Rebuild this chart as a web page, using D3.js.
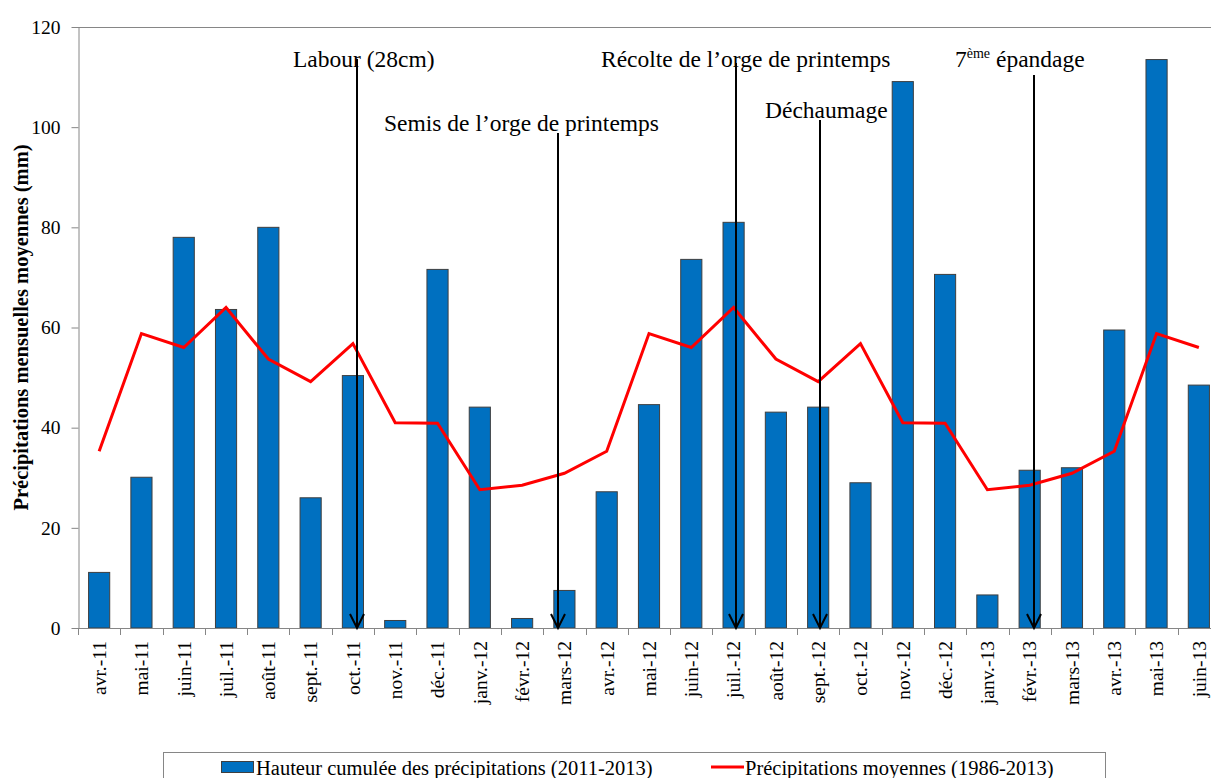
<!DOCTYPE html>
<html>
<head>
<meta charset="utf-8">
<script src="https://cdn.jsdelivr.net/npm/d3@7"></script>
<style>
  html, body { margin: 0; padding: 0; background: #fff; overflow: hidden; }
  svg, svg text { font-family: "Liberation Serif", "Times New Roman", serif; }
</style>
</head>
<body>
<svg id="chart" width="1211" height="778"></svg>
<script>
// ---------- DATA ----------
const months = ["avr.-11","mai-11","juin-11","juil.-11","août-11","sept.-11","oct.-11","nov.-11","déc.-11","janv.-12","févr.-12","mars-12","avr.-12","mai-12","juin-12","juil.-12","août-12","sept.-12","oct.-12","nov.-12","déc.-12","janv.-13","févr.-13","mars-13","avr.-13","mai-13","juin-13"];
const rainfall = [11.1, 30.1, 78, 63.6, 80, 26, 50.4, 1.5, 71.6, 44.1, 1.9, 7.5, 27.2, 44.6, 73.6, 81, 43.1, 44.1, 29, 109.1, 70.6, 6.6, 31.5, 32, 59.5, 113.5, 48.5];
const meanRain = [35.3, 58.8, 56, 64, 53.7, 49.2, 56.8, 41, 40.9, 27.6, 28.5, 30.9, 35.3, 58.8, 56, 64, 53.7, 49.2, 56.8, 41, 40.9, 27.6, 28.5, 30.9, 35.3, 58.8, 56];
const yTicks = [0, 20, 40, 60, 80, 100, 120];
const annotLabels = ["Labour (28cm)", "Semis de l’orge de printemps", "Récolte de l’orge de printemps", "Déchaumage", "7|ème| épandage"];
const annotMonths = ["oct.-11", "mars-12", "juil.-12", "sept.-12", "févr.-13"];
const seriesNames = ["Hauteur cumulée des précipitations (2011-2013)", "Précipitations moyennes (1986-2013)"];
const yTitle = "Précipitations mensuelles moyennes (mm)";

// ---------- LAYOUT ----------
const FONT = '"Liberation Serif", "Times New Roman", serif';
const plot = { left: 78, right: 1220, top: 27, bottom: 628 };
// arrows were hand-placed in the original: small shifts from the band centre
const annotLayout = [
  { shift: 4, dx: -64, textY: 67, lineTop: 59 },
  { shift: -6, dx: -174, textY: 131, lineTop: 133 },
  { shift: 2.5, dx: -135, textY: 67, lineTop: 63 },
  { shift: 1.5, dx: -55, textY: 118, lineTop: 120 },
  { shift: 4.5, dx: -79, textY: 67, lineTop: 75 }
];

const svg = d3.select("#chart");

const x = d3.scaleBand().domain(months).range([plot.left, plot.right]).paddingInner(0.5).paddingOuter(0.25);
const y = d3.scaleLinear().domain([0, 120]).range([plot.bottom, plot.top]);
const step = x.step();

// plot border (top line)
svg.append("line")
  .attr("x1", plot.left).attr("x2", plot.right)
  .attr("y1", y(120) + 0.5).attr("y2", y(120) + 0.5)
  .attr("stroke", "#868686").attr("stroke-width", 1);

// bars
svg.append("g").selectAll("rect").data(months).join("rect")
  .attr("x", d => x(d))
  .attr("y", (d, i) => y(rainfall[i]))
  .attr("width", x.bandwidth())
  .attr("height", (d, i) => y(0) - y(rainfall[i]))
  .attr("fill", "#0070C0")
  .attr("stroke", "#3f3f3f")
  .attr("stroke-width", 1);

// Y axis
const yAxis = d3.axisLeft(y).tickValues(yTicks).tickSize(7).tickSizeOuter(0).tickPadding(11).tickFormat(d3.format("d"));
const gy = svg.append("g").attr("transform", `translate(${plot.left + 0.5},0)`).call(yAxis);
gy.attr("font-family", null).attr("font-size", null);
gy.select(".domain").attr("stroke", "#868686");
gy.selectAll(".tick line").attr("stroke", "#868686");
gy.selectAll(".tick text").style("font-size", "19.5px").style("font-family", FONT).attr("fill", "#000");

// X axis line + ticks at band boundaries
svg.append("line")
  .attr("x1", plot.left).attr("x2", plot.right)
  .attr("y1", y(0) + 0.5).attr("y2", y(0) + 0.5)
  .attr("stroke", "#868686");
const boundaries = months.map(d => x(d) + x.bandwidth() / 2 - step / 2).concat([plot.right]);
svg.append("g").selectAll("line").data(boundaries).join("line")
  .attr("x1", d => Math.round(d) + 0.5).attr("x2", d => Math.round(d) + 0.5)
  .attr("y1", y(0)).attr("y2", y(0) + 7)
  .attr("stroke", "#868686");

// X labels
svg.append("g").selectAll("text").data(months).join("text")
  .attr("transform", d => `translate(${x(d) + x.bandwidth() / 2},641) rotate(-90)`)
  .attr("text-anchor", "end")
  .attr("dy", "0.35em")
  .style("font-size", "19.5px")
  .style("font-family", FONT)
  .attr("fill", "#000")
  .text(d => d);

// mean line
const line = d3.line().x((d, i) => x(months[i]) + x.bandwidth() / 2).y(d => y(d));
svg.append("path").datum(meanRain)
  .attr("d", line)
  .attr("fill", "none")
  .attr("stroke", "#FF0000")
  .attr("stroke-width", 3)
  .attr("stroke-linejoin", "miter");

// annotations
const ga = svg.append("g");
annotLabels.forEach((lab, i) => {
  const L = annotLayout[i];
  const cx = Math.round(x(annotMonths[i]) + x.bandwidth() / 2 + L.shift);
  ga.append("line")
    .attr("x1", cx).attr("x2", cx)
    .attr("y1", L.lineTop).attr("y2", y(0))
    .attr("stroke", "#000").attr("stroke-width", 2);
  ga.append("path")
    .attr("d", `M${cx - 7},${y(0) - 14} L${cx},${y(0)} L${cx + 7},${y(0) - 14}`)
    .attr("fill", "none").attr("stroke", "#000").attr("stroke-width", 2);
  const t = ga.append("text")
    .attr("x", cx + L.dx).attr("y", L.textY)
    .style("font-size", "23.5px").style("font-family", FONT).attr("fill", "#000");
  const parts = lab.split("|");
  if (parts.length === 3) {
    t.append("tspan").text(parts[0]);
    t.append("tspan").style("font-size", "14px").attr("dy", "-9").text(parts[1]);
    t.append("tspan").attr("dy", "9").text(parts[2]);
  } else {
    t.text(lab);
  }
});

// Y title
svg.append("text")
  .attr("transform", `translate(28,${(plot.top + plot.bottom) / 2}) rotate(-90)`)
  .attr("text-anchor", "middle")
  .style("font-size", "20.5px")
  .style("font-family", FONT)
  .attr("font-weight", "bold")
  .attr("fill", "#000")
  .text(yTitle);

// legend
const lg = svg.append("g");
lg.append("rect")
  .attr("x", 163.5).attr("y", 752.5).attr("width", 942).attr("height", 40)
  .attr("fill", "#fff").attr("stroke", "#868686");
lg.append("rect")
  .attr("x", 221.5).attr("y", 761.5).attr("width", 32).attr("height", 11)
  .attr("fill", "#0070C0").attr("stroke", "#3f3f3f");
lg.append("text").attr("x", 256).attr("y", 775).style("font-size", "20.5px").style("font-family", FONT).attr("fill", "#000").text(seriesNames[0]);
lg.append("line").attr("x1", 711).attr("x2", 744).attr("y1", 767).attr("y2", 767)
  .attr("stroke", "#FF0000").attr("stroke-width", 3);
lg.append("text").attr("x", 745).attr("y", 775).style("font-size", "20.5px").style("font-family", FONT).attr("fill", "#000").text(seriesNames[1]);
</script>
</body>
</html>
